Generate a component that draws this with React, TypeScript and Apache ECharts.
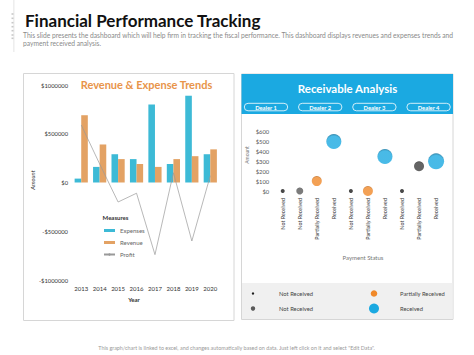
import React, { useEffect, useRef } from "react";
import * as echarts from "echarts";

const years = ["2013", "2014", "2015", "2016", "2017", "2018", "2019", "2020"];
const expenses = [40000, 160000, 290000, 240000, 800000, 190000, 890000, 290000];
const revenue = [690000, 390000, 240000, 190000, 160000, 240000, 270000, 340000];
const profit = [590000, 190000, -200000, -110000, -740000, 100000, -600000, 70000];

const paymentStatus = [
  "Not Received", "Not Received", "Partially Received", "Received", "Not Received",
  "Partially Received", "Received", "Not Received", "Partially Received", "Received",
];
const receivableAmounts = [0, 0, 100, 500, 0, 0, 350, 0, 250, 300];
const bubbleSizes = [4, 7, 10, 15, 4, 10, 15, 4, 10, 16];
const bubbleKinds = ["black", "gray", "orange", "blue", "black", "orange", "blue", "black", "dark", "blue"];
const dealers = ["Dealer 1", "Dealer 2", "Dealer 3", "Dealer 4"];
const legendKinds = ["black", "orange", "gray", "blue"];
const legendLabels = ["Not Received", "Partially Received", "Not Received", "Received"];

const FONT = "Lato, 'Noto Sans', sans-serif";
const BLUE_BAR = "#3DBAD6";
const ORANGE_BAR = "#E3A264";
const HEADER_BLUE = "#1BA9E1";

const kindColor: Record<string, [string, string]> = {
  black: ["#1c1c1c", "#1c1c1c"],
  gray: ["#5a5a5a", "#333333"],
  dark: ["#3e3e3e", "#1a1a1a"],
  orange: ["#F0892A", "#B85F10"],
  blue: ["#1BA9E1", "#0A6E99"],
};

function bubbleColor(kind: string) {
  const [c, d] = kindColor[kind];
  if (kind === "black") return c;
  return new echarts.graphic.RadialGradient(0.5, 0.62, 0.62, [
    { offset: 0, color: c },
    { offset: 0.78, color: c },
    { offset: 1, color: d },
  ]);
}

function money(v: number) {
  return v < 0 ? "-$" + Math.abs(v) : "$" + v;
}

export default function App() {
  const ref = useRef<HTMLDivElement>(null);
  useEffect(() => {
    if (!ref.current) return;
    const chart = echarts.init(ref.current, undefined, { renderer: "svg" });

    const graphics: any[] = [
      // left decoration
      { type: "rect", shape: { x: 13.5, y: 0, width: 0.8, height: 52 }, style: { fill: "#dddddd" } },
      ...[14, 18.3, 22.7, 26.7, 30.7, 35, 38.3].map((y) => ({
        type: "rect", shape: { x: 11.5, y: y - 0.8, width: 2, height: 1.6 }, style: { fill: "#c8c8c8" },
      })),
      {
        type: "text", x: 25, y: 20,
        style: { text: "Financial Performance Tracking", font: "bold 17px " + FONT, fill: "#111", verticalAlign: "middle" },
      },
      {
        type: "text", x: 23, y: 35,
        style: {
          text: "This slide presents the dashboard which will help firm in tracking the fiscal performance. This dashboard displays revenues and expenses trends and",
          font: "6.7px " + FONT, fill: "#8a8a8a", verticalAlign: "middle",
        },
      },
      {
        type: "text", x: 23, y: 42.5,
        style: { text: "payment received analysis.", font: "6.7px " + FONT, fill: "#8a8a8a", verticalAlign: "middle" },
      },
      // left panel
      {
        type: "rect", z: -1, shape: { x: 23.5, y: 73.5, width: 210.5, height: 247 },
        style: { fill: "#fff", stroke: "#d6d6d6", lineWidth: 1 },
      },
      {
        type: "text", x: 146.5, y: 84,
        style: { text: "Revenue & Expense Trends", font: "bold 11px " + FONT, fill: "#E8944A", align: "center", verticalAlign: "middle" },
      },
      {
        type: "text", x: 32, y: 180, rotation: Math.PI / 2,
        style: { text: "Amount", font: "italic 5.8px " + FONT, fill: "#333", align: "center", verticalAlign: "middle" },
      },
      {
        type: "text", x: 134, y: 299,
        style: { text: "Year", font: "bold 6px " + FONT, fill: "#333", align: "center", verticalAlign: "middle" },
      },
      {
        type: "text", x: 115.5, y: 217,
        style: { text: "Measures", font: "bold 6px " + FONT, fill: "#333", align: "center", verticalAlign: "middle" },
      },
      // right panel
      {
        type: "rect", z: -1, shape: { x: 241.5, y: 74, width: 211.5, height: 245.5 },
        style: { fill: "#fff", stroke: "#d6d6d6", lineWidth: 1 },
      },
      { type: "rect", z: -1, shape: { x: 242, y: 283, width: 210.5, height: 36 }, style: { fill: "#F0F0F0" } },
      { type: "rect", shape: { x: 241.5, y: 74, width: 211.5, height: 40 }, style: { fill: HEADER_BLUE } },
      {
        type: "text", x: 347.5, y: 88,
        style: { text: "Receivable Analysis", font: "bold 11.5px " + FONT, fill: "#fff", align: "center", verticalAlign: "middle" },
      },
      ...dealers.flatMap((d, i) => {
        const x = 244.3 + i * 54.2;
        return [
          {
            type: "rect", shape: { x, y: 103.3, width: 43.4, height: 7.5, r: 3.75 },
            style: { fill: "none", stroke: "#fff", lineWidth: 0.8 },
          },
          {
            type: "text", x: x + 21.7, y: 107.1,
            style: { text: d, font: "bold 5.8px " + FONT, fill: "#fff", align: "center", verticalAlign: "middle" },
          },
        ];
      }),
      {
        type: "text", x: 247, y: 155, rotation: Math.PI / 2,
        style: { text: "Amount", font: "5px " + FONT, fill: "#777", align: "center", verticalAlign: "middle" },
      },
      {
        type: "text", x: 363, y: 257,
        style: { text: "Payment Status", font: "6px " + FONT, fill: "#777", align: "center", verticalAlign: "middle" },
      },
      ...legendKinds.flatMap((k, i) => {
        const col = i % 2;
        const row = Math.floor(i / 2);
        const cx = col === 0 ? 253 : 374;
        const cy = row === 0 ? 293.5 : 308.5;
        const sizes: Record<string, number> = { black: 1.2, gray: 2.2, orange: 3.3, blue: 5 };
        return [
          { type: "circle", shape: { cx, cy, r: sizes[k] }, style: { fill: kindColor[k][0] } },
          {
            type: "text", x: col === 0 ? 279 : 400, y: cy,
            style: { text: legendLabels[i], font: "5.8px " + FONT, fill: "#444", verticalAlign: "middle" },
          },
        ];
      }),
      {
        type: "text", x: 236.5, y: 347.5,
        style: {
          text: 'This graph/chart is linked to excel, and changes automatically based on data. Just left click on it and select "Edit Data".',
          font: "5.4px " + FONT, fill: "#9a9a9a", align: "center", verticalAlign: "middle",
        },
      },
    ];

    chart.setOption({
      animation: false,
      textStyle: { fontFamily: FONT },
      graphic: graphics,
      grid: [
        { left: 72, top: 85, width: 147.5, height: 195 },
        { left: 274.2, top: 131.7, width: 170.4, height: 59.3 },
      ],
      legend: {
        orient: "vertical",
        left: 98,
        top: 222.5,
        itemWidth: 11,
        itemHeight: 3,
        itemGap: 6,
        textStyle: { fontSize: 6, color: "#666", fontFamily: FONT },
        data: [
          { name: "Expenses", icon: "rect" },
          { name: "Revenue", icon: "rect" },
          { name: "Profit" },
        ],
      },
      xAxis: [
        {
          type: "category", gridIndex: 0, data: years,
          axisLine: { show: false }, axisTick: { show: false },
          axisLabel: { fontSize: 6, color: "#333", margin: 5 },
        },
        {
          type: "category", gridIndex: 1, data: paymentStatus,
          axisLine: { show: false }, axisTick: { show: false },
          axisLabel: { fontSize: 5.4, color: "#333", rotate: 90, margin: 7, interval: 0 },
        },
      ],
      yAxis: [
        {
          type: "value", gridIndex: 0, min: -1000000, max: 1000000, interval: 500000,
          splitLine: { show: false }, axisLine: { show: false }, axisTick: { show: false },
          axisLabel: { fontSize: 5.8, color: "#333", margin: 4, formatter: money },
        },
        {
          type: "value", gridIndex: 1, min: 0, max: 600, interval: 100,
          splitLine: { show: false }, axisLine: { show: false }, axisTick: { show: false },
          axisLabel: { fontSize: 5.8, color: "#555", margin: 5, formatter: (v: number) => "$" + v },
        },
      ],
      series: [
        {
          name: "Expenses", type: "bar", xAxisIndex: 0, yAxisIndex: 0, data: expenses,
          barWidth: 6.6, barGap: "0%", itemStyle: { color: BLUE_BAR },
        },
        {
          name: "Revenue", type: "bar", xAxisIndex: 0, yAxisIndex: 0, data: revenue,
          barWidth: 6.6, barGap: "0%", itemStyle: { color: ORANGE_BAR },
        },
        {
          name: "Profit", type: "line", xAxisIndex: 0, yAxisIndex: 0, data: profit,
          symbol: "none", itemStyle: { color: "#999" }, lineStyle: { color: "#999", width: 0.7 },
        },
        {
          name: "Receivables", type: "scatter", xAxisIndex: 1, yAxisIndex: 1,
          data: receivableAmounts.map((v, i) => ({
            value: [i, v],
            symbolSize: bubbleSizes[i],
            itemStyle: { color: bubbleColor(bubbleKinds[i]) },
          })),
        },
      ],
    });
    return () => chart.dispose();
  }, []);

  return (
    <div
      ref={ref}
      style={{ position: "fixed", left: 0, top: 0, width: 474, height: 355, background: "#fff" }}
    />
  );
}
